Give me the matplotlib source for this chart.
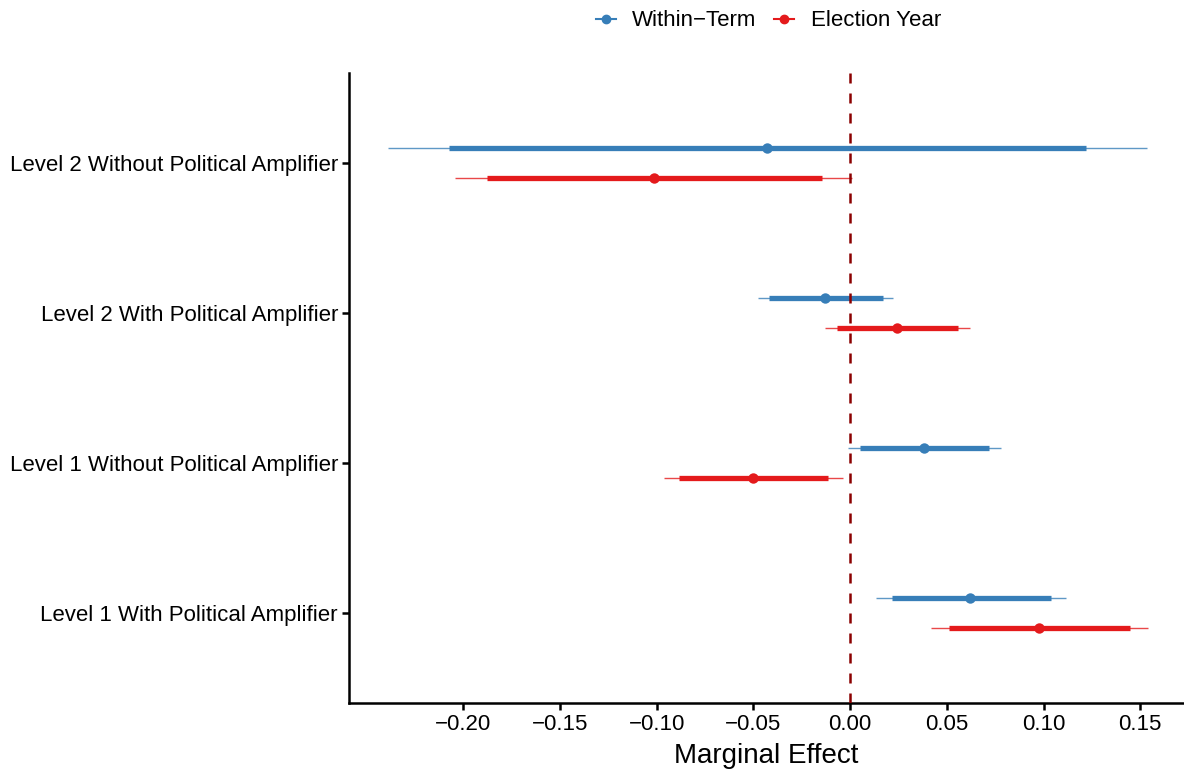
import matplotlib
matplotlib.use("Agg")
import matplotlib.pyplot as plt
from matplotlib.lines import Line2D
import numpy as np

plt.rcParams['font.family'] = ['Liberation Sans', 'DejaVu Sans']

categories = ["Level 1 With Political Amplifier",
              "Level 1 Without Political Amplifier",
              "Level 2 With Political Amplifier",
              "Level 2 Without Political Amplifier"]
series = ["Within\u2212Term", "Election Year"]
colors = ["#377EB8", "#E41A1C"]

# estimates per series, ordered as categories
est = {
    "Within\u2212Term": [0.062, 0.0382, -0.0129, -0.0429],
    "Election Year":   [0.0977, -0.0501, 0.0243, -0.1013],
}
lo95 = {
    "Within\u2212Term": [0.0134, -0.001, -0.0475, -0.2388],
    "Election Year":   [0.0419, -0.0961, -0.0129, -0.204],
}
hi95 = {
    "Within\u2212Term": [0.1116, 0.078, 0.0222, 0.1535],
    "Election Year":   [0.154, -0.0036, 0.062, 0.001],
}
lo90 = {
    "Within\u2212Term": [0.0217, 0.005, -0.0419, -0.2072],
    "Election Year":   [0.0512, -0.0884, -0.0067, -0.1876],
}
hi90 = {
    "Within\u2212Term": [0.1039, 0.0718, 0.0171, 0.1220],
    "Election Year":   [0.1447, -0.0114, 0.0558, -0.0145],
}
xticks = [-0.20, -0.15, -0.10, -0.05, 0.00, 0.05, 0.10, 0.15]

fig = plt.figure(figsize=(11.84, 7.7), dpi=100)
ax = fig.add_axes([349/1184, 1-703/770, 1-349/1184, (703-73)/770])

ypos = np.arange(1, len(categories)+1)
offsets = [0.1, -0.1]
for s, c, off in zip(series, colors, offsets):
    y = ypos + off
    ax.hlines(y, lo95[s], hi95[s], color=c, lw=1.0, alpha=0.8, zorder=2)
    ax.hlines(y, lo90[s], hi90[s], color=c, lw=3.8, zorder=3)
    ax.plot(est[s], y, 'o', color=c, ms=7.5, zorder=4, mec='none')

ax.axvline(0, color='#8B0000', ls=(0, (4, 4)), lw=1.8, zorder=5)

ax.set_xlim(-0.259, 0.1726)
ax.set_ylim(0.4, 4.6)
ax.set_yticks(ypos)
ax.set_yticklabels(categories, fontsize=16, color='black')
ax.set_xticks(xticks)
ax.set_xticklabels([("%.2f" % t).replace('-', '\u2212') for t in xticks], fontsize=16, color='black')
ax.set_xlabel("Marginal Effect", fontsize=20, labelpad=6)
for sp in ['top', 'right']:
    ax.spines[sp].set_visible(False)
for sp in ['left', 'bottom']:
    ax.spines[sp].set_linewidth(1.8)
ax.tick_params(axis='both', width=1.8, length=5, pad=3)

handles = [Line2D([0], [0], color=c, lw=1.5, marker='o', ms=6) for c in colors]
fig.legend(handles, series, loc='center', bbox_to_anchor=(768.5/1184, 1-21/770), ncol=2,
           frameon=False, fontsize=16, handlelength=0.9, handletextpad=0.75, columnspacing=0.8)

fig.savefig("out.png", dpi=100)
